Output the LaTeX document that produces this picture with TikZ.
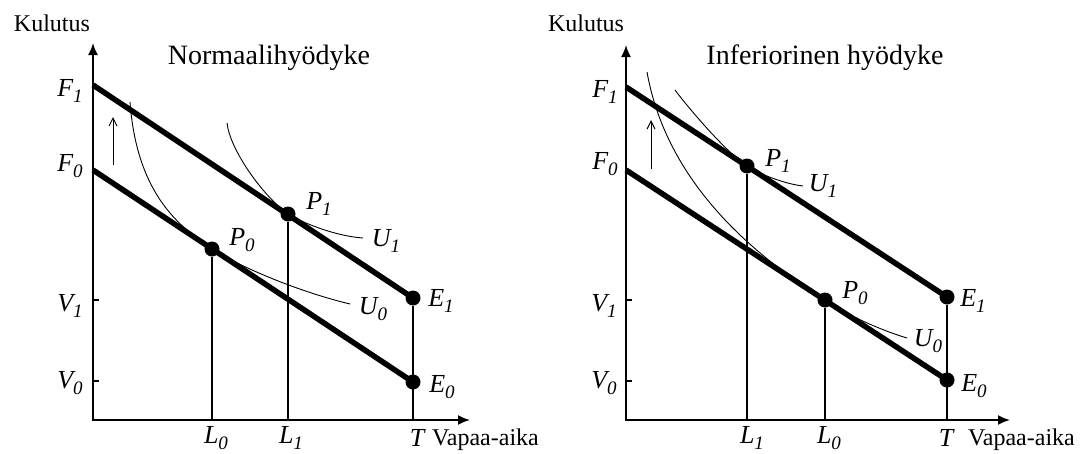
\documentclass[tikz,border=0pt]{standalone}
\usepackage{fontspec}
\setmainfont{Liberation Serif}
\usetikzlibrary{arrows.meta,positioning}
\tikzset{
  axisline/.style={line width=1.8pt,{Latex[length=12pt,width=10pt]}-{Latex[length=12pt,width=10pt]}},
  budget/.style={line width=5.5pt},
  drop/.style={line width=1.3pt},
  indiff/.style={line width=0.9pt},
  dot/.style={circle,fill=black,inner sep=0pt,minimum size=15pt},
  lab/.style={inner sep=0pt,font=\fontsize{26}{26}\selectfont\itshape},
  axlab/.style={inner sep=0pt,font=\fontsize{24}{24}\selectfont},
  heading/.style={inner sep=0pt,font=\fontsize{28}{28}\selectfont},
  upshift/.style={line width=1pt,-{Straight Barb[length=8pt,width=8pt]}}
}
\newcommand{\sub}[2]{#1\raisebox{-0.22em}{\fontsize{19}{19}\selectfont #2}}

\begin{document}
\begin{tikzpicture}[x=1pt,y=-1pt]
  \useasboundingbox (0,0) rectangle (1089,453);
  % Normaalihyodyke
  \coordinate (o) at (93,420);
  \coordinate (ytop) at (93,43);
  \coordinate (xend) at (470,420);
  \coordinate (f1) at (93,85);
  \coordinate (f0) at (93,170);
  \coordinate (pe1) at (413,298);
  \coordinate (pe0) at (413,382);
  \coordinate (pp0) at (212,249);
  \coordinate (pp1) at (288,214);
  \draw[axisline] (ytop) -- (o) -- (xend);
  \draw[drop] (93,300) -- ++(6,0) (93,381) -- ++(6,0);
  \draw[budget] (f1) -- (pe1);
  \draw[budget] (f0) -- (pe0);
  \draw[indiff] (130,102) .. controls (137,195) and (180,227) .. (pp0)
                .. controls (242,268) and (300,292) .. (350,304);
  \draw[indiff] (227,123) .. controls (230,150) and (263,196) .. (pp1)
                .. controls (303,223) and (335,236) .. (363,238);
  \draw[upshift] (113,165) -- (113,117);
  \node[dot] (e1) at (pe1) {};
  \node[dot] (e0) at (pe0) {};
  \node[dot] (p0) at (pp0) {};
  \node[dot] (p1) at (pp1) {};
  \coordinate (l0) at (o -| p0);
  \coordinate (l1) at (o -| p1);
  \coordinate (t) at (o -| e1);
  \draw[drop] (p0) -- (l0);
  \draw[drop] (p1) -- (l1);
  \draw[drop] (e1) -- (t);
  \node[axlab] (kul) at (52,23) {Kulutus};
  \node[heading] (tit) at (269,58) {Normaalihyödyke};
  \node[lab] at (70,91) {\sub{F}{1}};
  \node[lab] at (70,166) {\sub{F}{0}};
  \node[lab] at (70,306) {\sub{V}{1}};
  \node[lab] at (70,383) {\sub{V}{0}};
  \node[lab] at (216,438) {\sub{L}{0}};
  \node[lab] at (291,438) {\sub{L}{1}};
  \node[lab] (tl) at (417,438) {T};
  \node[axlab,anchor=west] at (432,440) {Vapaa-aika};
  \node[lab] at (242,240) {\sub{P}{0}};
  \node[lab] at (319,204) {\sub{P}{1}};
  \node[lab] at (386,241) {\sub{U}{1}};
  \node[lab] at (373,309) {\sub{U}{0}};
  \node[lab] at (441,301) {\sub{E}{1}};
  \node[lab] at (442,387) {\sub{E}{0}};

  % Inferiorinen hyodyke
  \coordinate (o') at (626,420);
  \coordinate (ytop') at (626,45);
  \coordinate (xend') at (1010,420);
  \coordinate (f1') at (626,87);
  \coordinate (f0') at (626,170);
  \coordinate (pe1') at (947,297);
  \coordinate (pe0') at (947,380);
  \coordinate (pp1') at (747,166);
  \coordinate (pp0') at (825,300);
  \draw[axisline] (ytop') -- (o') -- (xend');
  \draw[drop] (626,300) -- ++(6,0) (626,381) -- ++(6,0);
  \draw[budget] (f1') -- (pe1');
  \draw[budget] (f0') -- (pe0');
  \draw[indiff] (647,72) .. controls (668,190) and (765,262) .. (pp0')
                .. controls (845,314) and (880,330) .. (907,338);
  \draw[indiff] (675,90) .. controls (690,110) and (727,153) .. (pp1')
                .. controls (759,174) and (785,184) .. (803,186);
  \draw[upshift] (651,169) -- (651,120);
  \node[dot] (e1') at (pe1') {};
  \node[dot] (e0') at (pe0') {};
  \node[dot] (p0') at (pp0') {};
  \node[dot] (p1') at (pp1') {};
  \coordinate (l0') at (o' -| p0');
  \coordinate (l1') at (o' -| p1');
  \coordinate (t') at (o' -| e1');
  \draw[drop] (p0') -- (l0');
  \draw[drop] (p1') -- (l1');
  \draw[drop] (e1') -- (t');
  \node[axlab] (kul') at (586,23) {Kulutus};
  \node[heading] (tit') at (825,58) {Inferiorinen hyödyke};
  \node[lab] at (605,92) {\sub{F}{1}};
  \node[lab] at (605,164) {\sub{F}{0}};
  \node[lab] at (604,306) {\sub{V}{1}};
  \node[lab] at (604,383) {\sub{V}{0}};
  \node[lab] at (752,438) {\sub{L}{1}};
  \node[lab] at (829,438) {\sub{L}{0}};
  \node[lab] (tl') at (946,438) {T};
  \node[axlab,anchor=west] at (968,440) {Vapaa-aika};
  \node[lab] at (778,161) {\sub{P}{1}};
  \node[lab] at (823,186) {\sub{U}{1}};
  \node[lab] at (855,293) {\sub{P}{0}};
  \node[lab] at (928,341) {\sub{U}{0}};
  \node[lab] at (973,301) {\sub{E}{1}};
  \node[lab] at (974,386) {\sub{E}{0}};
\end{tikzpicture}
\end{document}
